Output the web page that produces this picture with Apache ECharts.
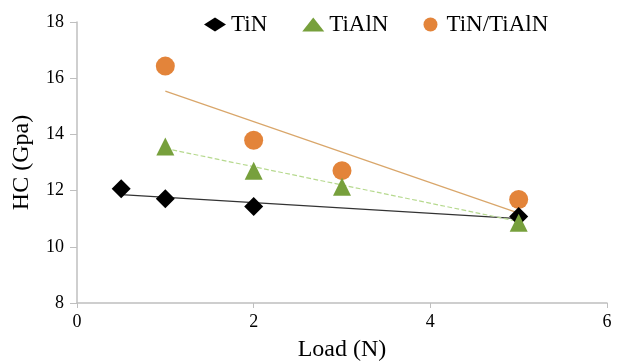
<!DOCTYPE html>
<html>
<head>
<meta charset="utf-8">
<script src="https://cdn.jsdelivr.net/npm/echarts@6/dist/echarts.min.js"></script>
<style>
  html, body { margin: 0; padding: 0; background: #fff; }
  #main { width: 619px; height: 361px; }
</style>
</head>
<body>
<div id="main"></div>
<script>
// 读出来的数据
var tinData = [[0.5, 12.07], [1, 11.71], [2, 11.43], [5, 11.08]];
var tialnData = [[1, 13.57], [2, 12.71], [3, 12.14], [5, 10.86]];
var multiData = [[1, 16.43], [2, 13.79], [3, 12.71], [5, 11.68]];
// 趋势线两端
var tinTrend = [[0.5, 11.86], [5, 11.0]];
var tialnTrend = [[1, 13.5], [5, 10.9]];
var multiTrend = [[1, 15.54], [5, 11.2]];

var serif = 'Liberation Serif';
var myChart = echarts.init(document.getElementById('main'));

function trend(data, color, type) {
    return {
        type: 'line',
        data: data,
        symbol: 'none',
        silent: true,
        z: 1,
        lineStyle: { color: color, width: 1.2, type: type }
    };
}

var option = {
    animation: false,
    textStyle: { fontFamily: serif },
    grid: { left: 77, right: 12, top: 22, bottom: 58, containLabel: false, outerBoundsMode: 'none' },
    legend: {
        top: 8,
        left: 199,
        itemGap: 35,
        itemWidth: 22,
        itemHeight: 14,
        textStyle: { fontFamily: serif, fontSize: 23, color: '#000' },
        data: [
            { name: 'TiN', icon: 'diamond' },
            { name: 'TiAlN', icon: 'triangle' },
            { name: 'TiN/TiAlN', icon: 'circle' }
        ]
    },
    xAxis: {
        type: 'value',
        min: 0, max: 6, interval: 2,
        name: 'Load (N)',
        nameLocation: 'middle',
        nameGap: 35,
        nameTextStyle: { fontFamily: serif, fontSize: 24, color: '#000' },
        axisLine: { lineStyle: { color: '#bfbfbf', width: 1.5 } },
        axisTick: { show: true, length: 5, lineStyle: { color: '#bfbfbf' } },
        axisLabel: { fontFamily: serif, fontSize: 18, color: '#000', margin: 10 },
        splitLine: { show: false }
    },
    yAxis: {
        type: 'value',
        min: 8, max: 18, interval: 2,
        name: 'HC (Gpa)',
        nameLocation: 'middle',
        nameGap: 43,
        nameRotate: 90,
        nameTextStyle: { fontFamily: serif, fontSize: 24, color: '#000' },
        axisLine: { show: true, lineStyle: { color: '#bfbfbf', width: 1.5 } },
        axisTick: { show: true, length: 7, lineStyle: { color: '#bfbfbf' } },
        axisLabel: { fontFamily: serif, fontSize: 18, color: '#000', margin: 13 },
        splitLine: { show: false }
    },
    series: [
        trend(tinTrend, '#333333', 'solid'),
        trend(tialnTrend, '#b6d98e', 'dashed'),
        trend(multiTrend, '#d9a66a', 'solid'),
        {
            name: 'TiN', type: 'scatter', data: tinData,
            symbol: 'diamond', symbolSize: 19, z: 3,
            itemStyle: { color: '#000', opacity: 1 }
        },
        {
            name: 'TiAlN', type: 'scatter', data: tialnData,
            symbol: 'triangle', symbolSize: 18, z: 3,
            itemStyle: { color: '#77a03c', opacity: 1 }
        },
        {
            name: 'TiN/TiAlN', type: 'scatter', data: multiData,
            symbol: 'circle', symbolSize: 19, z: 2,
            itemStyle: { color: '#e3843a', opacity: 1 }
        }
    ]
};

myChart.setOption(option);
</script>
</body>
</html>
